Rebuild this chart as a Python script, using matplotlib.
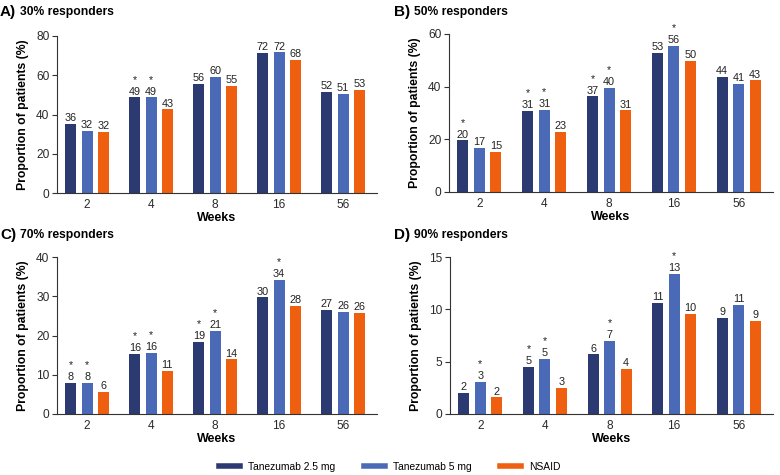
import numpy as np
import matplotlib
matplotlib.use("Agg")
import matplotlib.pyplot as plt
from matplotlib.lines import Line2D

plt.rcParams['font.family'] = ['Liberation Sans', 'DejaVu Sans']

weeks = ['2', '4', '8', '16', '56']
groups = ['Tanezumab 2.5 mg', 'Tanezumab 5 mg', 'NSAID']
colors = ['#2c3a72', '#4a69b7', '#ee6010']

# bar heights (percent)
a_vals = [[35.4, 48.7, 55.7, 71.5, 51.7],
          [31.7, 48.7, 59.2, 71.7, 50.7],
          [31.1, 42.7, 54.6, 67.7, 52.6]]
b_vals = [[19.6, 30.8, 36.3, 52.8, 43.7],
          [16.7, 31.1, 39.6, 55.6, 41.0],
          [15.2, 22.9, 31.0, 49.9, 42.4]]
c_vals = [[8.0, 15.3, 18.4, 29.7, 26.6],
          [7.9, 15.6, 21.1, 34.1, 26.0],
          [5.6, 11.0, 13.9, 27.6, 25.7]]
d_vals = [[2.0, 4.5, 5.7, 10.6, 9.2],
          [3.1, 5.3, 7.0, 13.4, 10.4],
          [1.6, 2.5, 4.3, 9.6, 8.9]]

# printed labels
a_lbl = [[36, 49, 56, 72, 52], [32, 49, 60, 72, 51], [32, 43, 55, 68, 53]]
b_lbl = [[20, 31, 37, 53, 44], [17, 31, 40, 56, 41], [15, 23, 31, 50, 43]]
c_lbl = [[8, 16, 19, 30, 27], [8, 16, 21, 34, 26], [6, 11, 14, 28, 26]]
d_lbl = [[2, 5, 6, 11, 9], [3, 5, 7, 13, 11], [2, 3, 4, 10, 9]]

# significance stars (1 = star above bar)
a_star = [[0, 1, 0, 0, 0], [0, 1, 0, 0, 0], [0, 0, 0, 0, 0]]
b_star = [[1, 1, 1, 0, 0], [0, 1, 1, 1, 0], [0, 0, 0, 0, 0]]
c_star = [[1, 1, 1, 0, 0], [1, 1, 1, 1, 0], [0, 0, 0, 0, 0]]
d_star = [[0, 1, 0, 0, 0], [1, 1, 1, 1, 0], [0, 0, 0, 0, 0]]

panels = [
    ('A)', '30% responders', a_vals, a_lbl, a_star, 80, [0, 20, 40, 60, 80]),
    ('B)', '50% responders', b_vals, b_lbl, b_star, 60, [0, 20, 40, 60]),
    ('C)', '70% responders', c_vals, c_lbl, c_star, 40, [0, 10, 20, 30, 40]),
    ('D)', '90% responders', d_vals, d_lbl, d_star, 15, [0, 5, 10, 15]),
]

W, H = 780, 475
fig = plt.figure(figsize=(W / 100, H / 100), dpi=100)

# axes boxes in pixels: left, top, width, height
rects = [(57, 36, 320, 157), (449, 34, 324, 158),
         (57, 257, 320, 157), (450, 257, 323, 157)]
title_pos = [(0, 12), (394, 12), (0, 235), (394, 235)]

x = np.arange(len(weeks))
bw = 0.17
step = 0.255

for (letter, title, vals, lbls, stars, ymax, yt), r, tp in zip(panels, rects, title_pos):
    l, t, w, h = r
    ax = fig.add_axes([l / W, (H - t - h) / H, w / W, h / H])
    for i in range(3):
        xs = x + (i - 1) * step
        ax.bar(xs, vals[i], width=bw, color=colors[i])
        for xi, v, lb, s in zip(xs, vals[i], lbls[i], stars[i]):
            ax.annotate(str(lb), (xi, v), xytext=(0, 0.5), textcoords='offset points',
                        ha='center', va='bottom', fontsize=7.8, color='#222222')
            if s:
                ax.annotate('*', (xi, v), xytext=(0, 9.2), textcoords='offset points',
                            ha='center', va='bottom', fontsize=7.8, color='#222222')
    ax.set_xlim(-0.47, 4.53)
    ax.set_ylim(0, ymax)
    ax.set_yticks(yt)
    ax.set_xticks(x)
    ax.set_xticklabels(weeks)
    ax.spines['top'].set_visible(False)
    ax.spines['right'].set_visible(False)
    ax.spines['left'].set_color('#333333')
    ax.spines['bottom'].set_color('#333333')
    ax.tick_params(axis='y', length=3.5, labelsize=8.6, color='#333333', pad=2,
                   labelcolor='#2a2a2a')
    ax.tick_params(axis='x', length=0, labelsize=8.6, pad=4, labelcolor='#2a2a2a')
    ax.set_xlabel('Weeks', fontsize=9, fontweight='bold', labelpad=1)
    ax.set_ylabel('Proportion of patients (%)', fontsize=8.8, fontweight='bold', labelpad=5)
    fig.text(tp[0] / W, 1 - tp[1] / H, letter, fontsize=11, fontweight='bold',
             ha='left', va='center')
    fig.text((tp[0] + 20) / W, 1 - tp[1] / H, title, fontsize=8.7, fontweight='bold',
             ha='left', va='center')

handles = [Line2D([0], [0], color=c, lw=4) for c in colors]
fig.legend(handles, groups, loc='center', bbox_to_anchor=(0.5, 1 - 467 / H), ncol=3,
           frameon=False, fontsize=7.4, handlelength=2.0, columnspacing=2.8)

fig.savefig('out.png', dpi=100)
